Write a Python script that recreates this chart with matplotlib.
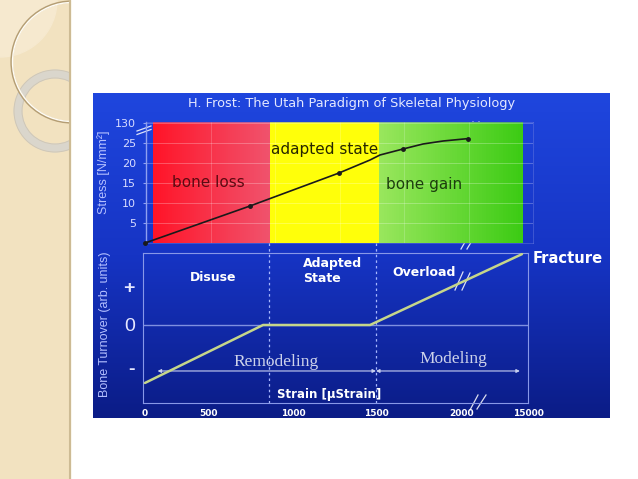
import numpy as np
import matplotlib
matplotlib.use("Agg")
import matplotlib.pyplot as plt
from matplotlib.colors import LinearSegmentedColormap
from matplotlib.patches import Rectangle, Circle, Wedge
from matplotlib.lines import Line2D
from matplotlib.ticker import NullLocator

# ---------------- data ----------------
title = "H. Frost: The Utah Paradigm of Skeletal Physiology"

zone_labels = ["bone loss", "adapted state", "bone gain"]
zone_edges = [60, 865, 1520, 14000]                      # strain (µStrain)

stress_strain = [0, 747, 1277, 1464, 1523, 1657, 1773, 1890, 3182]
stress_values = [0, 9.25, 17.5, 20.75, 22.0, 23.5, 24.75, 25.5, 26.1]   # N/mm²
stress_marked = [0, 1, 2, 5, 8]                           # points drawn with a dot

turnover_strain = [0, 824, 1464, 13800]
turnover_values = [-1.26, 0, 0, 1.54]                     # arb. units

thresholds = [860, 1500]
region_labels = ["Disuse", "Adapted\nState", "Overload"]
process_labels = ["Remodeling", "Modeling"]
process_spans = [(100, 1500), (1500, 13400)]

x_ticks = [0, 500, 1000, 1500, 2000, 15000]
x_tick_labels = ["0", "500", "1000", "1500", "2000", "15000"]
stress_ticks = [5, 10, 15, 20, 25, 30]
stress_tick_labels = ["5", "10", "15", "20", "25", "130"]
turnover_ticks = [-0.93, 0, 0.83]
turnover_tick_labels = ["-", "0", "+"]

# ---------------- broken (piecewise) strain scale ----------------
SCALE_STRAIN = [-1000, 0, 500, 1000, 1500, 2000, 15000, 100000]
SCALE_POS = [19, 145, 208, 293, 376, 462, 528, 959.5]


def fwd(x):
    return np.interp(np.asarray(x, dtype=float), SCALE_STRAIN, SCALE_POS)


def inv(p):
    return np.interp(np.asarray(p, dtype=float), SCALE_POS, SCALE_STRAIN)


plt.rcParams["font.family"] = ["DejaVu Sans"]

W, H = 638, 479
fig = plt.figure(figsize=(W / 100, H / 100), dpi=100, facecolor="white")


def frac(l, t, r, b):
    return [l / W, 1 - b / H, (r - l) / W, (b - t) / H]


# ---------------- slide decoration (background) ----------------
bg = fig.add_axes([0, 0, 1, 1], zorder=0)
bg.set_xlim(0, W)
bg.set_ylim(H, 0)
bg.axis("off")

bg.add_patch(Rectangle((0, 0), 70, H, color="#f2e2c0", zorder=1))
bg.add_patch(Wedge((0, 0), 57, 0, 90, color="#f6e9cf", zorder=1.5))
clip = Rectangle((0, 0), 70, H, transform=bg.transData)
ring = Circle((55, 111), 37, fill=False, ec="#dad6cc", lw=6.5, zorder=2)
bg.add_patch(ring)
ring.set_clip_path(clip)
for r in (41, 33):
    p = Circle((55, 111), r, fill=False, ec="#cfc6b4", lw=0.6, zorder=2.1)
    bg.add_patch(p)
    p.set_clip_path(clip)
c1 = Circle((72, 62), 60.4, fill=False, ec="#b59e74", lw=1.8, zorder=3)
c2 = Circle((72, 62), 59.5, fill=False, ec="#fffdf6", lw=1.0, zorder=3.1)
for p in (c1, c2):
    bg.add_patch(p)
    p.set_clip_path(clip)
bg.plot([70, 70], [0, H], color="#cdbb94", lw=1.5, zorder=4)

# blue panel
grad = np.linspace(0, 1, 256)[:, None]
blue = LinearSegmentedColormap.from_list("blue", ["#1f46de", "#1634c4", "#0b1c86"])
bg.imshow(grad, extent=(93, 610, 418, 93), aspect="auto", cmap=blue, zorder=5,
          interpolation="bilinear")

# axis-break marks
breaks = [
    [(137, 131), (151, 126)], [(137, 134.5), (151, 129.5)],
    [(464, 137), (473, 122)], [(470, 137), (479, 122)],
    [(461, 249), (469, 235)], [(467, 249), (476, 234)],
    [(455, 290), (463, 272)], [(462, 290), (470, 273)],
    [(470, 410), (478, 395)], [(477, 409), (486, 395)],
]
for (x0, y0), (x1, y1) in breaks:
    bg.plot([x0, x1], [y0, y1], color="white", lw=0.9, alpha=0.85, zorder=10)

fig.text(352 / W, 1 - 107 / H, title, ha="center", va="baseline",
         fontsize=9.3, color="#e4e8ff")

# ---------------- top chart: stress vs strain ----------------
axT = fig.add_axes(frac(146, 122, 533, 243), zorder=2)
axT.set_facecolor("none")
axT.set_xscale("function", functions=(fwd, inv))
axT.set_xlim(float(inv(146)), float(inv(533)))
axT.set_ylim(0, 30.25)

zone_colors = [["#ff1428", "#f0526c"], ["#ffff0a", "#ffff0a"], ["#98e65c", "#3ccb14"]]
for i, cols in enumerate(zone_colors):
    a, b = zone_edges[i], zone_edges[i + 1]
    xe = inv(np.linspace(fwd(a), fwd(b), 60))
    C = np.linspace(0, 1, 59)[None, :]
    axT.pcolormesh(xe, [0, 30.25], C, cmap=LinearSegmentedColormap.from_list("z", cols),
                   shading="flat", antialiased=False, edgecolors="none", zorder=1)

axT.set_axisbelow("line")
axT.set_yticks(stress_ticks, stress_tick_labels)
axT.yaxis.grid(True, color="white", alpha=0.3, lw=0.6)
for k in range(1, 6):
    axT.add_line(Line2D([k / 6, k / 6], [0, 1], transform=axT.transAxes,
                        color="white", alpha=0.22, lw=0.6, zorder=1.6))
axT.set_xticks([])
axT.xaxis.set_minor_locator(NullLocator())
axT.tick_params(axis="y", length=2.2, color="#8fa0f0", pad=5, labelsize=8,
                labelcolor="#d8dcff")
for name, sp in axT.spines.items():
    if name == "left":
        sp.set_color("#8fa0f0")
        sp.set_linewidth(1.0)
    else:
        sp.set_color("#7080e0")
        sp.set_linewidth(0.6)
        sp.set_alpha(0.5)

axT.plot(stress_strain, stress_values, color="#1a1a1a", lw=1.2, marker="o", ms=2.5,
         markevery=stress_marked, zorder=3, clip_on=False)

zone_text_pos = [(500, 14.0), (1193, 22.25), (1782, 13.5)]
zone_text_col = ["#5c0a12", "#262600", "#1c3e0e"]
for lab, (x, y), c in zip(zone_labels, zone_text_pos, zone_text_col):
    axT.text(x, y, lab, ha="center", va="baseline", fontsize=11, color=c, zorder=4)

fig.text(104 / W, 1 - 172 / H, "Stress [N/mm²]", rotation=90, ha="center", va="center",
         fontsize=9, color="#b4c0ff", family="Liberation Sans")

# ---------------- bottom chart: bone turnover ----------------
axB = fig.add_axes(frac(143, 253, 528, 403), zorder=2)
axB.set_facecolor("none")
axB.set_xscale("function", functions=(fwd, inv))
axB.set_xlim(float(inv(143)), float(inv(528)))
axB.set_ylim(-1.696, 1.565)
for sp in axB.spines.values():
    sp.set_color("#8898e8")
    sp.set_linewidth(0.8)

axB.axhline(0, color="#7f90e0", lw=1.0, zorder=1)
for t in thresholds:
    axB.axvline(t, ymin=0, ymax=(403 - 243) / 150, color="#a8b8ff", lw=0.9,
                ls=(0, (2, 2.5)), clip_on=False, zorder=2)

axB.plot(turnover_strain, turnover_values, color="#c6d68a", lw=1.8, zorder=3,
         clip_on=False, solid_capstyle="round")

axB.set_xticks(x_ticks, x_tick_labels)
axB.xaxis.set_minor_locator(NullLocator())
axB.tick_params(axis="x", length=0, pad=4.3, labelsize=6.5, labelcolor="white")
for lbl in axB.get_xticklabels():
    lbl.set_fontweight("bold")
axB.set_yticks(turnover_ticks, turnover_tick_labels)
axB.tick_params(axis="y", length=0, pad=5.8, labelsize=14, labelcolor="#e6e8ff")
for lbl in axB.get_yticklabels():
    lbl.set_family("Liberation Sans")
    if lbl.get_text() in ("+", "-"):
        lbl.set_fontweight("bold")

region_pos = [(529, 0.963, "center"), (1060, 0.94, "left"), (1779, 1.065, "center")]
for lab, (x, y, ha) in zip(region_labels, region_pos):
    axB.text(x, y, lab, ha=ha, va="baseline", fontsize=9, fontweight="bold",
             color="white", multialignment="left", zorder=4)

for (a, b) in process_spans:
    axB.annotate("", xy=(a, -1), xytext=(b, -1),
                 arrowprops=dict(arrowstyle="<|-|>", color="#c8d0f0", lw=0.8,
                                 mutation_scale=5, shrinkA=0, shrinkB=0), zorder=2)
process_pos = [(900, -0.89), (1948, -0.82)]
for lab, (x, y) in zip(process_labels, process_pos):
    axB.text(x, y, lab, ha="center", va="baseline", fontsize=12.5,
             family="Liberation Serif", color="#cdd2ea", zorder=4)

axB.text(1217, -1.59, "Strain [µStrain]", ha="center", va="baseline", fontsize=8.5,
         fontweight="bold", color="white", zorder=4)

axB.annotate("Fracture", xy=(turnover_strain[-1], turnover_values[-1]), xytext=(8, -6.1),
             textcoords="offset points", ha="left", va="baseline", fontsize=10.6,
             fontweight="bold", color="white", annotation_clip=False)

fig.text(105 / W, 1 - 324.5 / H, "Bone Turnover (arb. units)", rotation=90, ha="center",
         va="center", fontsize=9, color="#b4c0ff", family="Liberation Sans")

fig.savefig("out.png", dpi=100, facecolor="white")
